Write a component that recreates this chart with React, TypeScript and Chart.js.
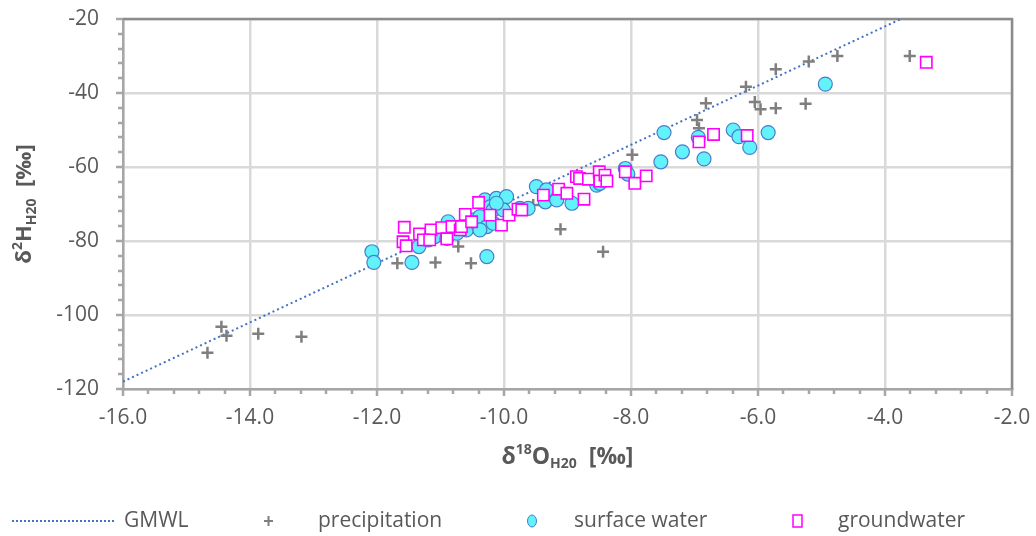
import { useEffect, useRef } from "react";
import { Chart, registerables } from "chart.js";

Chart.register(...registerables);

// ---- axis ticks ----
const xTickValues = [-16, -14, -12, -10, -8, -6, -4, -2];
const yTickValues = [-120, -100, -80, -60, -40, -20];

// ---- series ----
const seriesLabels = ["GMWL", "precipitation", "surface water", "groundwater"];

const gmwlX = [-16, -3.75];
const gmwlY = [-118, -20];

const precipX = [-14.67, -14.45, -14.37, -13.87, -13.19, -11.68, -11.08, -10.52, -10.72, -9.54, -9.11, -8.44, -7.98, -6.96, -6.93, -6.82, -6.19, -6.05, -5.96, -5.72, -5.72, -5.25, -5.2, -4.75, -3.61];
const precipY = [-110.2, -103.2, -105.6, -105.1, -105.9, -86.0, -85.8, -86.0, -81.5, -70.3, -76.8, -82.9, -56.7, -47.3, -49.5, -42.8, -38.3, -42.4, -44.4, -44.1, -33.6, -42.9, -31.5, -30.0, -30.0];

const surfaceX = [-12.08, -12.05, -11.45, -11.34, -11.19, -11.09, -10.9, -10.88, -10.74, -10.59, -10.48, -10.4, -10.38, -10.27, -10.38, -10.27, -10.3, -10.12, -10.22, -9.96, -10.17, -10.01, -10.12, -10.17, -9.75, -9.62, -9.49, -9.33, -9.35, -9.17, -8.93, -8.54, -8.49, -8.09, -8.05, -7.53, -7.48, -7.19, -6.94, -6.85, -6.39, -6.3, -6.13, -5.84, -4.94];
const surfaceY = [-82.9, -85.8, -85.8, -81.5, -79.7, -78.8, -79.3, -74.8, -77.9, -77.0, -74.3, -76.1, -73.4, -76.1, -77.0, -84.2, -68.9, -68.5, -70.8, -68.0, -71.6, -71.6, -69.8, -75.2, -71.2, -71.2, -65.3, -66.2, -69.4, -68.9, -69.8, -64.9, -64.4, -60.4, -61.9, -58.6, -50.7, -55.9, -52.0, -57.8, -50.0, -51.8, -54.7, -50.7, -37.6];

const groundX = [-11.57, -11.59, -11.54, -11.33, -11.15, -11.27, -11.17, -10.98, -10.9, -10.82, -10.69, -10.67, -10.61, -10.51, -10.4, -10.22, -10.04, -9.92, -9.78, -9.72, -9.38, -9.14, -9.01, -8.86, -8.81, -8.74, -8.67, -8.5, -8.49, -8.41, -8.38, -8.09, -7.94, -7.76, -6.93, -6.7, -6.17, -3.35];
const groundY = [-76.3, -80.2, -81.3, -78.1, -77.0, -79.7, -79.7, -76.4, -79.4, -76.1, -77.0, -76.1, -72.8, -74.8, -69.6, -73.0, -75.7, -73.0, -71.4, -71.6, -67.6, -66.0, -67.1, -62.6, -63.1, -68.7, -63.3, -61.3, -63.8, -62.2, -63.8, -61.3, -64.4, -62.4, -53.2, -51.2, -51.5, -31.7];

const FONT = "'Open Sans', sans-serif";
const TEXT_COLOR = "#595959";
const AXIS_COLOR = "#A6A6A6";
const FRAME_COLOR = "#8C8C8C";
const GRID_COLOR = "#D9D9D9";

const GMWL_COLOR = "#4472C4";
const PRECIP_COLOR = "#7F7F7F";
const SURF_FILL = "#62F2FC";
const SURF_BORDER = "#4A7DC9";
const GROUND_COLOR = "#FF00FF";

const toPts = (xs: number[], ys: number[]) => xs.map((x, i) => ({ x, y: ys[i] }));

type Seg = { t: string; size: number; dy: number };

function drawRich(ctx: CanvasRenderingContext2D, segs: Seg[], cx: number, cy: number) {
  let total = 0;
  const widths = segs.map((s) => {
    ctx.font = `bold ${s.size}px ${FONT}`;
    const w = ctx.measureText(s.t).width;
    total += w;
    return w;
  });
  let x = cx - total / 2;
  ctx.textBaseline = "middle";
  ctx.textAlign = "left";
  segs.forEach((s, i) => {
    ctx.font = `bold ${s.size}px ${FONT}`;
    ctx.fillText(s.t, x, cy + s.dy);
    x += widths[i];
  });
}

const zeroPad = (s: any) => {
  s.paddingTop = 0;
  s.paddingBottom = 0;
  s.paddingLeft = 0;
  s.paddingRight = 0;
};

const decorPlugin = {
  id: "decor",
  beforeDatasetsDraw(chart: any) {
    const { ctx, chartArea: a, scales } = chart;
    const xs = scales.x;
    const ys = scales.y;
    ctx.save();
    ctx.lineWidth = 2.5;
    ctx.strokeStyle = AXIS_COLOR;
    for (let v = -120; v <= -20 + 1e-6; v += 4) {
      const py = Math.round(ys.getPixelForValue(v));
      const major = Math.abs(v % 20) < 1e-6;
      const len = major ? 7 : 5;
      ctx.beginPath();
      ctx.moveTo(a.left - len, py);
      ctx.lineTo(a.left, py);
      ctx.stroke();
    }
    for (let i = 0; i <= 35; i++) {
      const v = -16 + i * 0.4;
      const px = Math.round(xs.getPixelForValue(v));
      const major = i % 5 === 0;
      const len = major ? 7 : 5;
      ctx.beginPath();
      ctx.moveTo(px, a.bottom);
      ctx.lineTo(px, a.bottom + len);
      ctx.stroke();
    }
    ctx.strokeStyle = FRAME_COLOR;
    ctx.beginPath();
    ctx.moveTo(a.left, a.top);
    ctx.lineTo(a.right, a.top);
    ctx.lineTo(a.right, a.bottom);
    ctx.stroke();
    ctx.restore();
  },
  afterDraw(chart: any) {
    const { ctx, chartArea: a } = chart;
    ctx.save();
    ctx.fillStyle = TEXT_COLOR;
    drawRich(
      ctx,
      [
        { t: "δ", size: 23, dy: 0 },
        { t: "18", size: 14, dy: -7 },
        { t: "O", size: 23, dy: 0 },
        { t: "H20", size: 14, dy: 7 },
        { t: "  [‰]", size: 23, dy: 0 },
      ],
      (a.left + a.right) / 2,
      457
    );
    ctx.translate(25, (a.top + a.bottom) / 2);
    ctx.rotate(-Math.PI / 2);
    drawRich(
      ctx,
      [
        { t: "δ", size: 22, dy: 0 },
        { t: "2", size: 14, dy: -7 },
        { t: "H", size: 22, dy: 0 },
        { t: "H20", size: 14, dy: 7 },
        { t: "  [‰]", size: 22, dy: 0 },
      ],
      0,
      0
    );
    ctx.restore();

    ctx.save();
    const ly = 521;
    ctx.font = `21px ${FONT}`;
    ctx.fillStyle = TEXT_COLOR;
    ctx.textBaseline = "middle";
    ctx.textAlign = "left";
    ctx.strokeStyle = GMWL_COLOR;
    ctx.lineWidth = 2;
    ctx.setLineDash([2, 2]);
    ctx.beginPath();
    ctx.moveTo(12, ly);
    ctx.lineTo(115, ly);
    ctx.stroke();
    ctx.setLineDash([]);
    ctx.fillText(seriesLabels[0], 124, ly);
    ctx.strokeStyle = PRECIP_COLOR;
    ctx.lineWidth = 2;
    ctx.beginPath();
    ctx.moveTo(264, ly);
    ctx.lineTo(273, ly);
    ctx.moveTo(268.5, ly - 5);
    ctx.lineTo(268.5, ly + 5);
    ctx.stroke();
    ctx.fillText(seriesLabels[1], 318, ly);
    ctx.beginPath();
    ctx.ellipse(532, ly, 4.5, 6, 0, 0, Math.PI * 2);
    ctx.fillStyle = SURF_FILL;
    ctx.fill();
    ctx.strokeStyle = SURF_BORDER;
    ctx.lineWidth = 1;
    ctx.stroke();
    ctx.fillStyle = TEXT_COLOR;
    ctx.fillText(seriesLabels[2], 574, ly);
    ctx.fillStyle = "#FFFFFF";
    ctx.fillRect(793, ly - 6, 9, 12);
    ctx.strokeStyle = GROUND_COLOR;
    ctx.lineWidth = 1.5;
    ctx.strokeRect(793, ly - 6, 9, 12);
    ctx.fillStyle = TEXT_COLOR;
    ctx.fillText(seriesLabels[3], 838, ly);
    ctx.restore();
  },
};

const bgPlugin = {
  id: "bg",
  beforeDraw(chart: any) {
    const { ctx, width, height } = chart;
    ctx.save();
    ctx.fillStyle = "#FFFFFF";
    ctx.fillRect(0, 0, width, height);
    ctx.restore();
  },
};

export default function App() {
  const ref = useRef<HTMLCanvasElement | null>(null);

  useEffect(() => {
    if (!ref.current) return;
    const chart = new Chart(ref.current, {
      type: "scatter",
      data: {
        datasets: [
          {
            label: seriesLabels[0],
            data: toPts(gmwlX, gmwlY),
            showLine: true,
            borderColor: GMWL_COLOR,
            borderWidth: 2,
            borderDash: [2, 3],
            pointRadius: 0,
            fill: false,
            order: 4,
          } as any,
          {
            label: seriesLabels[1],
            data: toPts(precipX, precipY),
            pointStyle: "cross",
            pointRadius: 6,
            borderColor: PRECIP_COLOR,
            borderWidth: 2.5,
            order: 3,
          },
          {
            label: seriesLabels[2],
            data: toPts(surfaceX, surfaceY),
            pointStyle: "circle",
            pointRadius: 7,
            backgroundColor: SURF_FILL,
            borderColor: SURF_BORDER,
            borderWidth: 1.2,
            order: 2,
          },
          {
            label: seriesLabels[3],
            data: toPts(groundX, groundY),
            pointStyle: "rect",
            pointRadius: 8,
            backgroundColor: "#FFFFFF",
            borderColor: GROUND_COLOR,
            borderWidth: 1.6,
            order: 1,
          },
        ],
      },
      options: {
        animation: false,
        responsive: true,
        maintainAspectRatio: false,
        layout: { autoPadding: false, padding: { left: 0, top: 19, right: 24, bottom: 0 } },
        plugins: {
          legend: { display: false },
          tooltip: { enabled: false },
          title: { display: false },
        },
        scales: {
          x: {
            type: "linear",
            min: -16,
            max: -2,
            afterBuildTicks: (scale: any) => {
              scale.ticks = xTickValues.map((v) => ({ value: v }));
            },
            afterFit: (scale: any) => {
              scale.height = 147;
              zeroPad(scale);
            },
            ticks: {
              color: TEXT_COLOR,
              font: { family: FONT, size: 21 },
              padding: 16,
              callback: (v: any) => Number(v).toFixed(1),
            },
            grid: { color: GRID_COLOR, lineWidth: 2.5, drawTicks: false },
            border: { display: true, color: AXIS_COLOR, width: 2.5 },
          },
          y: {
            type: "linear",
            min: -120,
            max: -20,
            afterBuildTicks: (scale: any) => {
              scale.ticks = yTickValues.map((v) => ({ value: v }));
            },
            afterFit: (scale: any) => {
              scale.width = 123;
              zeroPad(scale);
            },
            ticks: {
              color: TEXT_COLOR,
              font: { family: FONT, size: 21 },
              padding: 24,
              callback: (v: any) => String(v),
            },
            grid: { color: GRID_COLOR, lineWidth: 2.5, drawTicks: false },
            border: { display: true, color: AXIS_COLOR, width: 2.5 },
          },
        },
      } as any,
      plugins: [bgPlugin, decorPlugin],
    });
    return () => chart.destroy();
  }, []);

  return (
    <div style={{ position: "fixed", left: 0, top: 0, width: 1036, height: 536, background: "#fff" }}>
      <canvas ref={ref} />
    </div>
  );
}
